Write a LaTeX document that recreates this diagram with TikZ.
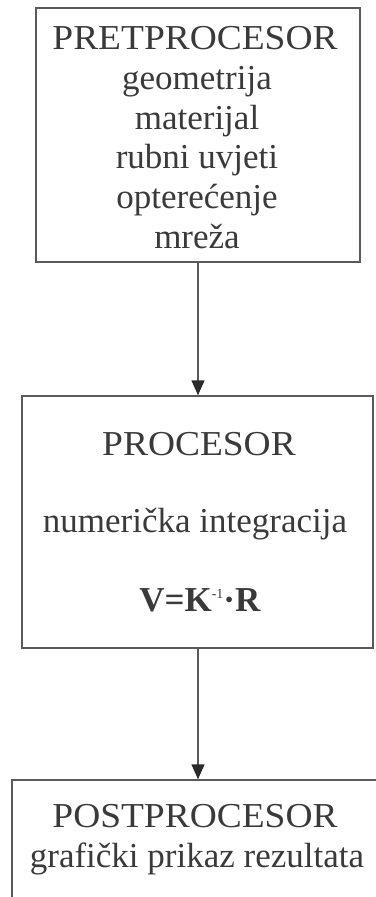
\documentclass[tikz,border=0pt]{standalone}
\usepackage{fontspec}
\setmainfont{Liberation Serif}
\usetikzlibrary{arrows.meta}
\definecolor{txtc}{HTML}{3A3A3A}
\definecolor{linec}{HTML}{5A5A5A}
\definecolor{tipc}{HTML}{2A2A2A}
\newcommand{\widecaps}[1]{\scalebox{1.07}[1]{#1}}
\tikzset{
  boxnode/.style={draw=linec, line width=1.5pt, rectangle, inner sep=0pt},
  txt/.style={anchor=base, inner sep=0pt, text=txtc, font=\fontsize{35}{40}\selectfont},
  conn/.style={draw=linec, line width=1.5pt, -{Triangle[length=15pt,width=13pt,color=tipc]}}
}
\begin{document}
\begin{tikzpicture}[x=1pt,y=-1pt]
\useasboundingbox (0,0) rectangle (375,897);
% boxes
\node[boxnode, minimum width=324pt, minimum height=254pt] (pre) at (198,135) {};
\node[boxnode, minimum width=351pt, minimum height=252pt] (proc) at (197.5,522) {};
\node[boxnode, minimum width=373pt, minimum height=140pt] (post) at (198.5,850) {};
% texts box 1
\node[txt] (t1) at (195,49) {\widecaps{PRETPROCESOR}};
\node[txt] (t2) at (197,89) {geometrija};
\node[txt] (t3) at (197,129) {materijal};
\node[txt] (t4) at (197,168) {rubni uvjeti};
\node[txt] (t5) at (197,208) {optere\'{c}enje};
\node[txt] (t6) at (197,248) {mre\v{z}a};
% texts box 2
\node[txt] (t7) at (199,455) {\widecaps{PROCESOR}};
\node[txt] (t8) at (195,532) {numeri\v{c}ka integracija};
\node[txt] (t9) at (200,611) {\textbf{V=K}\raisebox{13pt}{\fontsize{14}{14}\selectfont -1}\textbf{·R}};
% texts box 3
\node[txt] (t10) at (195,827) {\widecaps{POSTPROCESOR}};
\node[txt] (t11) at (197,867) {grafi\v{c}ki prikaz rezultata};
% connectors
\draw[conn] (pre.south) -- (pre.south |- proc.north);
\draw[conn] (proc.south -| pre.south) -- (pre.south |- post.north);
\end{tikzpicture}
\end{document}
